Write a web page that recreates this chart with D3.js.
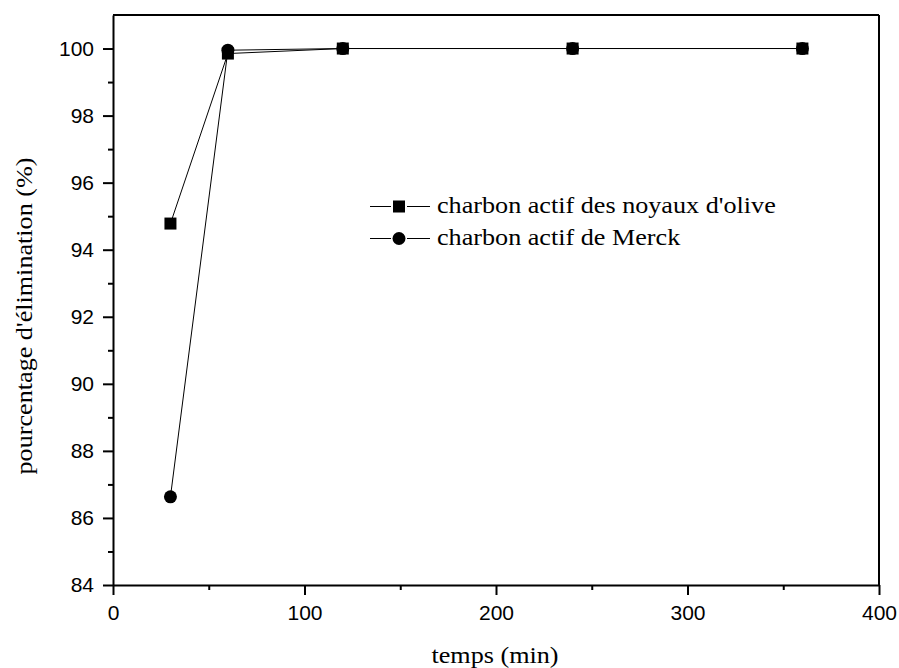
<!DOCTYPE html>
<html>
<head>
<meta charset="utf-8">
<script src="https://cdn.jsdelivr.net/npm/d3@7"></script>
<style>
  body { margin: 0; background: #fff; }
  svg { display: block; }
</style>
</head>
<body>
<svg id="chart" width="899" height="668"></svg>
<script>
// data
const times = [30, 60, 120, 240, 360];
const olive = [94.78, 99.85, 100, 100, 100];
const merck = [86.63, 99.95, 100, 100, 100];
const seriesNames = ["charbon actif des noyaux d'olive", "charbon actif de Merck"];
const xTicks = [0, 100, 200, 300, 400];
const xMinor = [50, 150, 250, 350];
const yTicks = [84, 86, 88, 90, 92, 94, 96, 98, 100];
const yMinor = [85, 87, 89, 91, 93, 95, 97, 99];

const svg = d3.select("#chart");

const plotLeft = 113, plotRight = 879, plotTop = 15, plotBottom = 585;
// the serif text in the original is drawn a little wide
const serif = "'Times New Roman', 'Liberation Serif', serif";
const stretch = 1.09;
const serifSize = "24px";

const x = d3.scaleLinear().domain([0, 400]).range([plotLeft, plotRight]);
const y = d3.scaleLinear().domain([84, 101]).range([plotBottom, plotTop]);

// minor ticks first
svg.append("g")
  .attr("transform", `translate(0, ${plotBottom})`)
  .call(d3.axisBottom(x).tickValues(xMinor).tickSize(5).tickFormat(""))
  .call(g => g.select(".domain").remove())
  .selectAll("line").attr("stroke-width", 2);

svg.append("g")
  .attr("transform", `translate(${plotLeft}, 0)`)
  .call(d3.axisLeft(y).tickValues(yMinor).tickSize(5).tickFormat(""))
  .call(g => g.select(".domain").remove())
  .selectAll("line").attr("stroke-width", 2);

// X axis
const xAxis = svg.append("g")
  .attr("transform", `translate(0, ${plotBottom})`)
  .call(d3.axisBottom(x).tickValues(xTicks).tickSize(10).tickSizeOuter(0).tickPadding(10));
xAxis.select(".domain").attr("stroke-width", 2);
xAxis.selectAll("line").attr("stroke-width", 2);
xAxis.selectAll("text")
  .style("font-family", "Arial, 'Liberation Sans', sans-serif")
  .style("font-size", "21px")
  .attr("fill", "#000");

// Y axis
const yAxis = svg.append("g")
  .attr("transform", `translate(${plotLeft}, 0)`)
  .call(d3.axisLeft(y).tickValues(yTicks).tickSize(10).tickSizeOuter(0).tickPadding(9));
yAxis.select(".domain").attr("stroke-width", 2);
yAxis.selectAll("line").attr("stroke-width", 2);
yAxis.selectAll("text")
  .style("font-family", "Arial, 'Liberation Sans', sans-serif")
  .style("font-size", "21px")
  .attr("fill", "#000");

// top and right frame lines
svg.append("line")
  .attr("x1", plotLeft).attr("x2", plotRight).attr("y1", plotTop).attr("y2", plotTop)
  .attr("stroke", "#000").attr("stroke-width", 2);
svg.append("line")
  .attr("x1", plotRight).attr("x2", plotRight).attr("y1", plotTop).attr("y2", plotBottom)
  .attr("stroke", "#000").attr("stroke-width", 2);

// axis titles
svg.append("text")
  .attr("transform", `translate(${(plotLeft + plotRight) / 2 - 1}, 663) scale(${stretch}, 1)`)
  .attr("text-anchor", "middle")
  .style("font-family", serif)
  .style("font-size", serifSize)
  .text("temps (min)");

svg.append("text")
  .attr("transform", `translate(32, 316) rotate(-90) scale(${stretch}, 1)`)
  .attr("text-anchor", "middle")
  .style("font-family", serif)
  .style("font-size", serifSize)
  .text("pourcentage d'élimination (%)");

// series lines
const line = d3.line()
  .x(d => x(d[0]))
  .y(d => y(d[1]));

const oliveData = times.map((t, i) => [t, olive[i]]);
const merckData = times.map((t, i) => [t, merck[i]]);

svg.append("path")
  .datum(oliveData)
  .attr("fill", "none")
  .attr("stroke", "#000")
  .attr("stroke-width", 1)
  .attr("d", line);

svg.append("path")
  .datum(merckData)
  .attr("fill", "none")
  .attr("stroke", "#000")
  .attr("stroke-width", 1)
  .attr("d", line);

// markers
svg.selectAll(".sq")
  .data(oliveData)
  .enter()
  .append("rect")
  .attr("class", "sq")
  .attr("x", d => x(d[0]) - 6)
  .attr("y", d => y(d[1]) - 6)
  .attr("width", 12)
  .attr("height", 12)
  .attr("fill", "#000");

svg.selectAll(".ci")
  .data(merckData)
  .enter()
  .append("circle")
  .attr("class", "ci")
  .attr("cx", d => x(d[0]))
  .attr("cy", d => y(d[1]))
  .attr("r", 6.5)
  .attr("fill", "#000");

// legend
const legend = svg.append("g");
const rows = [206.5, 238.5];

rows.forEach((ry, i) => {
  // line broken around the symbol, like the original
  legend.append("line")
    .attr("x1", 370).attr("x2", 391).attr("y1", ry).attr("y2", ry)
    .attr("stroke", "#000").attr("stroke-width", 1);
  legend.append("line")
    .attr("x1", 407).attr("x2", 430).attr("y1", ry).attr("y2", ry)
    .attr("stroke", "#000").attr("stroke-width", 1);
  if (i === 0) {
    legend.append("rect")
      .attr("x", 393).attr("y", ry - 6)
      .attr("width", 12).attr("height", 12)
      .attr("fill", "#000");
  } else {
    legend.append("circle")
      .attr("cx", 399).attr("cy", ry).attr("r", 6.5)
      .attr("fill", "#000");
  }
  legend.append("text")
    .attr("transform", `translate(437, ${ry + 6}) scale(${stretch}, 1)`)
    .style("font-family", serif)
    .style("font-size", serifSize)
    .text(seriesNames[i]);
});
</script>
</body>
</html>
